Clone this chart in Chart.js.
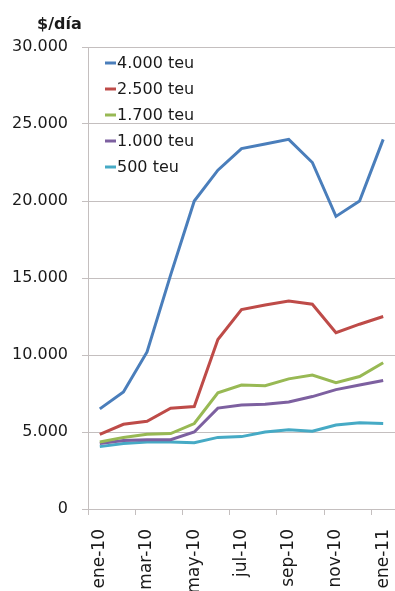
<!DOCTYPE html>
<html>
<head>
<meta charset="utf-8">
<script src="https://cdn.jsdelivr.net/npm/chart.js@4.4.1/dist/chart.umd.min.js"></script>
<style>
  html, body { margin: 0; padding: 0; background: #ffffff; }
  #wrap { width: 395px; height: 591px; }
</style>
</head>
<body>
<div id="wrap"><canvas id="c" width="395" height="591"></canvas></div>
<script>
// Monthly daily charter rates ($/día) by ship size, ene-10 to ene-11
const months = ['ene-10', 'feb-10', 'mar-10', 'abr-10', 'may-10', 'jun-10', 'jul-10',
                'ago-10', 'sep-10', 'oct-10', 'nov-10', 'dic-10', 'ene-11'];
const seriesNames = ['4.000 teu', '2.500 teu', '1.700 teu', '1.000 teu', '500 teu'];
const teu4000 = [6500, 7600, 10200, 15200, 20000, 22000, 23400, 23700, 24000, 22500, 19000, 20000, 24000];
const teu2500 = [4850, 5500, 5700, 6550, 6650, 11000, 12950, 13250, 13500, 13300, 11450, 12000, 12500];
const teu1700 = [4350, 4650, 4850, 4900, 5550, 7550, 8050, 8000, 8450, 8700, 8200, 8600, 9500];
const teu1000 = [4250, 4450, 4500, 4500, 5000, 6550, 6750, 6800, 6950, 7300, 7750, 8050, 8350];
const teu500  = [4050, 4250, 4350, 4350, 4300, 4650, 4700, 5000, 5150, 5050, 5450, 5600, 5550];
const yTicks = [0, 5000, 10000, 15000, 20000, 25000, 30000];
const unitLabel = '$/día';

const colors = ['#4a7ebb', '#be4b48', '#98b954', '#7d60a0', '#46aac5'];
const values = [teu4000, teu2500, teu1700, teu1000, teu500];
const gridGray = '#c4bfbf';
const textColor = '#1a1a1a';
const FONT = "'DejaVu Sans', 'Liberation Sans', Arial, sans-serif";

// Thousands separator with a dot
const fmt = v => v === 0 ? '0' : String(v).replace(/\B(?=(\d{3})+(?!\d))/g, '.');

// Unit caption above the value axis
const unitPlugin = {
  id: 'unitCaption',
  afterDraw(chart) {
    const { ctx, chartArea } = chart;
    ctx.save();
    ctx.font = 'bold 16px ' + FONT;
    ctx.fillStyle = textColor;
    ctx.textAlign = 'left';
    ctx.textBaseline = 'alphabetic';
    ctx.fillText(unitLabel, chartArea.left - 51, chartArea.top - 18);
    ctx.restore();
  }
};

// Legend drawn inside the plot, upper-left corner
const innerLegend = {
  id: 'innerLegend',
  afterDatasetsDraw(chart) {
    const { ctx, chartArea } = chart;
    const x0 = chartArea.left + 17;
    const y0 = chartArea.top + 16;
    const step = 26;
    ctx.save();
    ctx.font = '16px ' + FONT;
    ctx.textAlign = 'left';
    ctx.textBaseline = 'middle';
    chart.data.datasets.forEach((ds, i) => {
      const y = y0 + i * step;
      ctx.strokeStyle = ds.borderColor;
      ctx.lineWidth = 3;
      ctx.beginPath();
      ctx.moveTo(x0, y);
      ctx.lineTo(x0 + 11, y);
      ctx.stroke();
      ctx.fillStyle = textColor;
      ctx.fillText(ds.label, x0 + 12, y + 1);
    });
    ctx.restore();
  }
};

new Chart(document.getElementById('c'), {
  type: 'line',
  data: {
    labels: months,
    datasets: seriesNames.map((name, i) => ({
      label: name,
      data: values[i],
      borderColor: colors[i],
      backgroundColor: colors[i],
      borderWidth: 3,
      pointRadius: 0,
      tension: 0,
      fill: false
    }))
  },
  options: {
    responsive: false,
    animation: false,
    devicePixelRatio: 1,
    layout: { padding: { top: 47, left: 0, right: 0, bottom: 0 } },
    plugins: {
      legend: { display: false },
      tooltip: { enabled: false }
    },
    scales: {
      x: {
        type: 'category',
        offset: true,
        grid: {
          offset: true,
          drawOnChartArea: false,
          drawTicks: true,
          tickLength: 6,
          tickColor: ctx => (ctx.index % 2 === 0 ? gridGray : 'rgba(0,0,0,0)')
        },
        border: { display: true, color: gridGray, width: 1 },
        ticks: {
          autoSkip: false,
          minRotation: 90,
          maxRotation: 90,
          padding: 14,
          color: textColor,
          font: { family: FONT, size: 17 },
          callback: (v, i) => (i % 2 === 0 ? months[i] : '')
        },
        afterFit: scale => {
          scale.height = 82;
          scale.paddingLeft = 0;
          scale.paddingRight = 0;
        }
      },
      y: {
        min: 0,
        max: 30000,
        afterBuildTicks: scale => { scale.ticks = yTicks.map(v => ({ value: v })); },
        grid: {
          color: gridGray,
          lineWidth: 1,
          drawTicks: true,
          tickLength: 6,
          tickColor: gridGray
        },
        border: { display: true, color: gridGray, width: 1 },
        ticks: {
          padding: 14,
          color: textColor,
          font: { family: FONT, size: 16 },
          callback: v => fmt(v)
        },
        afterFit: scale => { scale.width = 88; }
      }
    }
  },
  plugins: [unitPlugin, innerLegend]
});
</script>
</body>
</html>
